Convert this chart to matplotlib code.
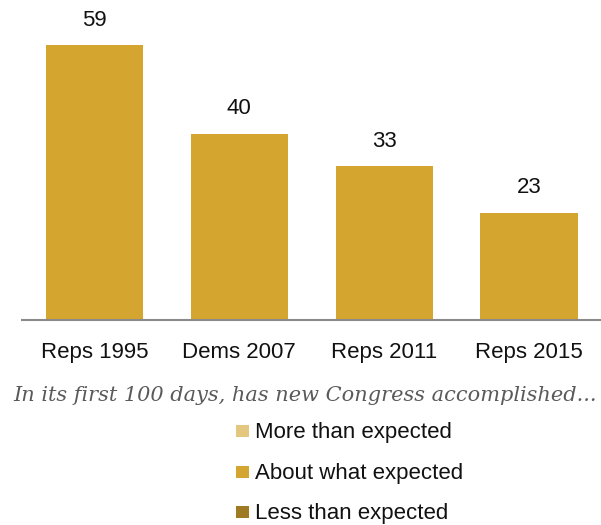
import matplotlib.pyplot as plt
from matplotlib.patches import Rectangle

# 데이터
groups = ['Reps 1995', 'Dems 2007', 'Reps 2011', 'Reps 2015']
about_expected = [59, 40, 33, 23]
legend_labels = ['More than expected', 'About what expected', 'Less than expected']
legend_colors = ['#E3C77F', '#D4A52F', '#9E7B22']
title = 'In its first 100 days, has new Congress accomplished...'

plt.rcParams['font.family'] = ['Liberation Sans', 'DejaVu Sans']

W, H = 601, 525
fig = plt.figure(figsize=(W / 100, H / 100), dpi=100)
ax = fig.add_axes([22 / W, 1 - 320 / H, 578 / W, 320 / H])

x = range(len(groups))
bars = ax.bar(x, about_expected, width=0.67, color=legend_colors[1])
for b, v in zip(bars, about_expected):
    ax.annotate(str(v), (b.get_x() + b.get_width() / 2, v),
                xytext=(0, 18), textcoords='offset points',
                ha='center', va='center', fontsize=16, color='#111111')

ax.set_xlim(-0.5, 3.49)
ax.set_ylim(0, 320 / 4.661)
ax.set_xticks(list(x))
ax.set_xticklabels(groups, fontsize=16, color='#111111')
ax.tick_params(axis='x', length=0, pad=16)
ax.set_yticks([])
for s in ['top', 'right', 'left']:
    ax.spines[s].set_visible(False)
ax.spines['bottom'].set_color('#8a8a8a')
ax.spines['bottom'].set_linewidth(1.5)

# 부제
fig.text(305 / W, 1 - 401 / H, title, ha='center', va='baseline',
         fontsize=15, style='italic', color='#5a5a5a',
         family=['DejaVu Serif'])

# 범례 (직접 배치, 기준선 위치)
baselines = [438, 478.5, 519]
for lab, col, yb in zip(legend_labels, legend_colors, baselines):
    fig.patches.append(Rectangle((236 / W, 1 - (yb - 1) / H), 13 / W, 12 / H,
                                 transform=fig.transFigure, facecolor=col,
                                 edgecolor='none'))
    fig.text(255 / W, 1 - yb / H, lab, ha='left', va='baseline',
             fontsize=16, color='#111111')

fig.savefig('out.png', dpi=100)
